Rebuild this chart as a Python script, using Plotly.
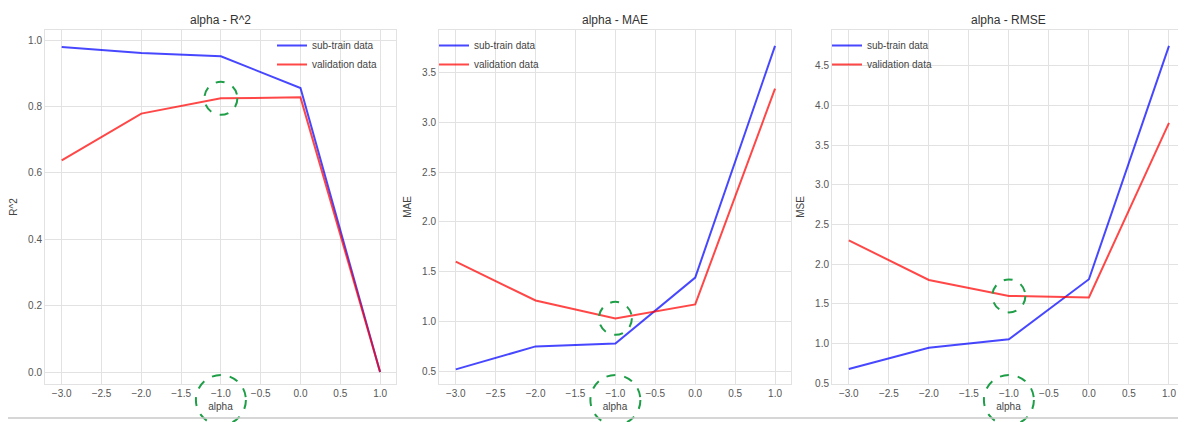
import plotly.graph_objects as go

alphas = [-3.0, -2.0, -1.0, 0.0, 1.0]

r2_train = [0.980, 0.962, 0.952, 0.856, 0.0]
r2_valid = [0.638, 0.779, 0.825, 0.828, 0.0]

mae_train = [0.517, 0.748, 0.778, 1.44, 3.77]
mae_valid = [1.60, 1.21, 1.03, 1.17, 3.34]

rmse_train = [0.68, 0.946, 1.054, 1.81, 4.75]
rmse_valid = [2.30, 1.80, 1.60, 1.58, 3.78]

titles = ["alpha - R^2", "alpha - MAE", "alpha - RMSE"]
ylabels = ["R^2", "MAE", "MSE"]
xlabel = "alpha"
series_names = ["sub-train data", "validation data"]

x_ticks = [-3.0, -2.5, -2.0, -1.5, -1.0, -0.5, 0.0, 0.5, 1.0]
y_ticks = [
    [0.0, 0.2, 0.4, 0.6, 0.8, 1.0],
    [0.5, 1.0, 1.5, 2.0, 2.5, 3.0, 3.5],
    [0.5, 1.0, 1.5, 2.0, 2.5, 3.0, 3.5, 4.0, 4.5],
]
y_ranges = [[-0.036, 1.031], [0.37, 3.93], [0.49, 4.95]]
x_range = [-3.21, 1.2]

W, H = 1186, 422
OFF = 8  # page body margin
panels_px = [(45 - OFF, 396 - OFF), (439 - OFF, 791 - OFF), (832 - OFF, 1185 - OFF)]
top_px, bot_px = 30 - OFF, 384 - OFF
legend_x_px = [272 - OFF, 434 - OFF, 827 - OFF]

TRAIN_C = "rgba(0,0,255,0.72)"
VALID_C = "rgba(255,0,0,0.72)"
GRID = "#e2e2e2"
TXT = "#555555"
GREEN = "#1f9e48"

data = [(r2_train, r2_valid), (mae_train, mae_valid), (rmse_train, rmse_valid)]

fig = go.Figure()
layout = {}
shapes = []
annotations = []

for i, ((tr, va), (x0, x1)) in enumerate(zip(data, panels_px)):
    n = "" if i == 0 else str(i + 1)
    leg = "legend" if i == 0 else f"legend{i+1}"
    fig.add_trace(go.Scatter(x=alphas, y=tr, mode="lines", name=series_names[0],
                             line=dict(color=TRAIN_C, width=2), xaxis=f"x{n}", yaxis=f"y{n}",
                             legend=leg))
    fig.add_trace(go.Scatter(x=alphas, y=va, mode="lines", name=series_names[1],
                             line=dict(color=VALID_C, width=2), xaxis=f"x{n}", yaxis=f"y{n}",
                             legend=leg))
    layout[f"xaxis{n}"] = dict(
        domain=[x0 / W, x1 / W], range=x_range, anchor=f"y{n}", automargin=False,
        tickmode="array", tickvals=x_ticks, tickformat=".1f",
        showgrid=True, gridcolor=GRID, gridwidth=1, zeroline=False,
        showline=True, linecolor=GRID, linewidth=1, mirror=True,
        ticks="", tickfont=dict(size=10, color=TXT, family="Liberation Sans"),
        title=dict(text=xlabel, font=dict(size=10, color="#444", family="Liberation Sans"), standoff=4),
    )
    layout[f"yaxis{n}"] = dict(
        domain=[1 - bot_px / H, 1 - top_px / H], range=y_ranges[i], anchor=f"x{n}", automargin=False,
        tickmode="array", tickvals=y_ticks[i], tickformat=".1f",
        showgrid=True, gridcolor=GRID, gridwidth=1, zeroline=False,
        showline=True, linecolor=GRID, linewidth=1, mirror=True,
        ticks="", tickfont=dict(size=10, color=TXT, family="Liberation Sans"),
        title=dict(text=ylabels[i], font=dict(size=10, color="#444", family="Liberation Sans"), standoff=8),
    )
    layout[leg] = dict(
        x=legend_x_px[i] / W, y=1 - (31 - OFF) / H, xanchor="left", yanchor="top",
        bgcolor="rgba(0,0,0,0)", font=dict(size=10, color="#444", family="Liberation Sans"),
        itemwidth=30, tracegroupgap=0,
    )
    annotations.append(dict(
        text=titles[i], x=(x0 + x1) / 2 / W, y=1 - (20 - OFF) / H, xref="paper", yref="paper",
        showarrow=False, xanchor="center", yanchor="middle",
        font=dict(size=12, color="#333", family="Liberation Sans"),
    ))
    # highlight circle around validation point at alpha = -1
    shapes.append(dict(
        type="circle", xref=f"x{n}", yref=f"y{n}", xsizemode="pixel", ysizemode="pixel",
        xanchor=alphas[2], yanchor=va[2], x0=-16.5, x1=16.5, y0=-16.5, y1=16.5,
        line=dict(color=GREEN, width=2, dash="dash"),
    ))
    # highlight circle around the x tick -1.0 / axis title
    shapes.append(dict(
        type="circle", xref=f"x{n}", yref="paper", xsizemode="pixel", ysizemode="pixel",
        xanchor=alphas[2], yanchor=1 - (400 - OFF) / H, x0=-25, x1=25, y0=-25, y1=25,
        line=dict(color=GREEN, width=2, dash="dash"),
    ))

shapes.append(dict(type="line", xref="paper", yref="paper", x0=0, x1=1.0,
                   y0=1 - (418 - OFF) / H, y1=1 - (418 - OFF) / H, line=dict(color="#c8c8c8", width=1.5)))

fig.update_layout(
    width=W, height=H, margin=dict(l=0, r=0, t=0, b=0, autoexpand=False),
    paper_bgcolor="white", plot_bgcolor="white",
    showlegend=True, shapes=shapes, annotations=annotations,
    font=dict(family="Liberation Sans"),
    **layout,
)

fig.write_html("out.html")
